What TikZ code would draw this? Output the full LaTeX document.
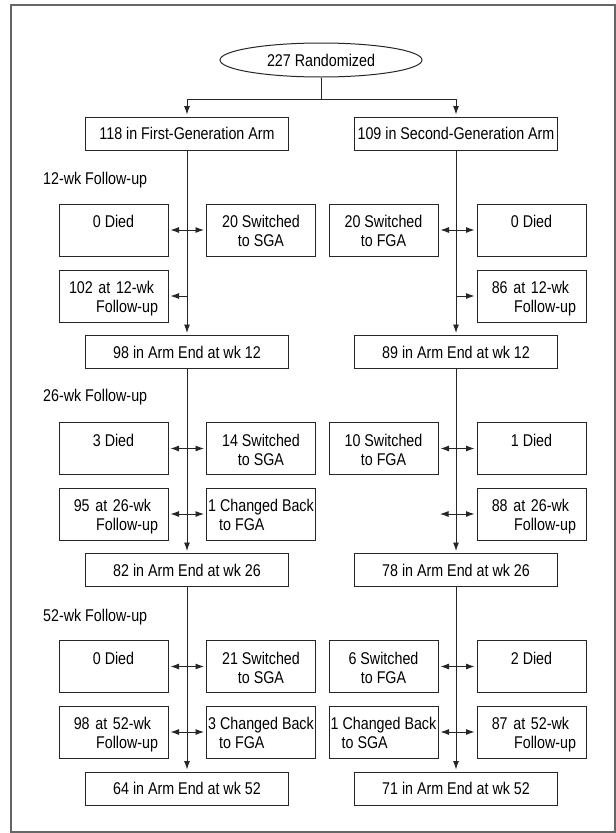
\documentclass[tikz,border=0pt]{standalone}
\usepackage{fontspec}
\setmainfont{Liberation Sans}[FakeStretch=0.84]
\usetikzlibrary{arrows.meta,shapes.geometric}
\newcommand{\bline}[1]{\raisebox{0pt}[15.2pt][1pt]{#1}}
\newcommand{\eline}[1]{\raisebox{0pt}[13.2pt][1pt]{#1}}
\begin{document}
\begin{tikzpicture}[x=1pt,y=-1pt,
  every node/.style={font=\fontsize{17pt}{19.2pt}\selectfont, inner sep=0pt, text=black},
  box/.style={draw=black!85, line width=1pt, minimum height=33pt, minimum width=203pt},
  rowbox/.style={draw=black!85, line width=1pt, minimum height=52pt, minimum width=109pt},
  died/.style={rowbox, align=center},
  sw/.style={rowbox, align=center},
  chg/.style={rowbox, align=left},
  fu/.style={rowbox, text width=89pt, align=right},
  lab/.style={anchor=base west},
  ln/.style={draw=black!85, line width=0.9pt},
  arr/.style={ln, -{Latex[length=8.5pt,width=6pt]}, shorten >=2pt},
  darr/.style={ln, {Latex[length=8.5pt,width=6pt]}-{Latex[length=8.5pt,width=6pt]}, shorten >=2pt, shorten <=2pt}
]
\useasboundingbox (0,0) rectangle (616,833);
\draw[black!60, line width=2pt] (11,5) rectangle (614.5,831.5);

\coordinate (colL) at (187,0);
\coordinate (colR) at (456,0);

\node[ellipse, draw=black!85, line width=1pt, minimum width=202pt, minimum height=34pt] (ell) at (321,60) {\eline{227 Randomized}};
\node[box] (topL) at (187,133.5) {\eline{118 in First-Generation Arm}};
\node[box] (topR) at (456,133.5) {\eline{109 in Second-Generation Arm}};
\coordinate (sp) at (321,99);
\draw[ln] (ell.south) -- (sp);
\draw[arr] (sp) -| (topL.north);
\draw[arr] (sp) -| (topR.north);

% ---- 12-wk
\node[lab] (lab12) at (43,184) {12-wk Follow-up};
\node[died] (L1d) at (113.5,230) {\bline{0 Died}\\\bline{}};
\node[sw] (L1s) at (261,230) {\bline{20 Switched}\\\bline{to SGA}};
\node[sw] (R1s) at (383.5,230) {\bline{20 Switched}\\\bline{to FGA}};
\node[died] (R1d) at (531.5,230) {\bline{0 Died}\\\bline{}};
\node[fu] (L1f) at (113.5,296) {\bline{102 at 12-wk\hspace{7pt}}\\\bline{Follow-up}};
\node[fu] (R1f) at (531.5,296) {\bline{86 at 12-wk\hspace{7pt}}\\\bline{Follow-up}};
\node[box] (L12) at (187,352) {\eline{98 in Arm End at wk 12}};
\node[box] (R12) at (456,352) {\eline{89 in Arm End at wk 12}};
\draw[arr] (topL.south) -- (L12.north);
\draw[arr] (topR.south) -- (R12.north);
\draw[darr] (L1d.east) -- (L1s.west);
\draw[darr] (R1s.east) -- (R1d.west);
\draw[arr] (L1f.east -| colL) -- (L1f.east);
\draw[arr] (R1f.west -| colR) -- (R1f.west);

% ---- 26-wk
\node[lab] (lab26) at (43,401) {26-wk Follow-up};
\node[died] (L2d) at (113.5,448.5) {\bline{3 Died}\\\bline{}};
\node[sw] (L2s) at (261,448.5) {\bline{14 Switched}\\\bline{to SGA}};
\node[sw] (R2s) at (383.5,448.5) {\bline{10 Switched}\\\bline{to FGA}};
\node[died] (R2d) at (531.5,448.5) {\bline{1 Died}\\\bline{}};
\node[fu] (L2f) at (113.5,514) {\bline{95 at 26-wk\hspace{7pt}}\\\bline{Follow-up}};
\node[chg] (L2c) at (261,514) {\bline{1 Changed Back}\\\bline{\hspace{11pt}to FGA}};
\node[fu] (R2f) at (531.5,514) {\bline{88 at 26-wk\hspace{7pt}}\\\bline{Follow-up}};
\coordinate (R2gap) at (438,514);
\node[box] (L26) at (187,570) {\eline{82 in Arm End at wk 26}};
\node[box] (R26) at (456,570) {\eline{78 in Arm End at wk 26}};
\draw[arr] (L12.south) -- (L26.north);
\draw[arr] (R12.south) -- (R26.north);
\draw[darr] (L2d.east) -- (L2s.west);
\draw[darr] (R2s.east) -- (R2d.west);
\draw[darr] (L2f.east) -- (L2c.west);
\draw[darr] (R2gap) -- (R2f.west);

% ---- 52-wk
\node[lab] (lab52) at (43,621) {52-wk Follow-up};
\node[died] (L3d) at (113.5,666.5) {\bline{0 Died}\\\bline{}};
\node[sw] (L3s) at (261,666.5) {\bline{21 Switched}\\\bline{to SGA}};
\node[sw] (R3s) at (383.5,666.5) {\bline{6 Switched}\\\bline{to FGA}};
\node[died] (R3d) at (531.5,666.5) {\bline{2 Died}\\\bline{}};
\node[fu] (L3f) at (113.5,732) {\bline{98 at 52-wk\hspace{7pt}}\\\bline{Follow-up}};
\node[chg] (L3c) at (261,732) {\bline{3 Changed Back}\\\bline{\hspace{11pt}to FGA}};
\node[chg] (R3c) at (383.5,732) {\bline{1 Changed Back}\\\bline{\hspace{11pt}to SGA}};
\node[fu] (R3f) at (531.5,732) {\bline{87 at 52-wk\hspace{7pt}}\\\bline{Follow-up}};
\node[box] (L52) at (187,788.5) {\eline{64 in Arm End at wk 52}};
\node[box] (R52) at (456,788.5) {\eline{71 in Arm End at wk 52}};
\draw[arr] (L26.south) -- (L52.north);
\draw[arr] (R26.south) -- (R52.north);
\draw[darr] (L3d.east) -- (L3s.west);
\draw[darr] (R3s.east) -- (R3d.west);
\draw[darr] (L3f.east) -- (L3c.west);
\draw[darr] (R3c.east) -- (R3f.west);
\end{tikzpicture}
\end{document}
